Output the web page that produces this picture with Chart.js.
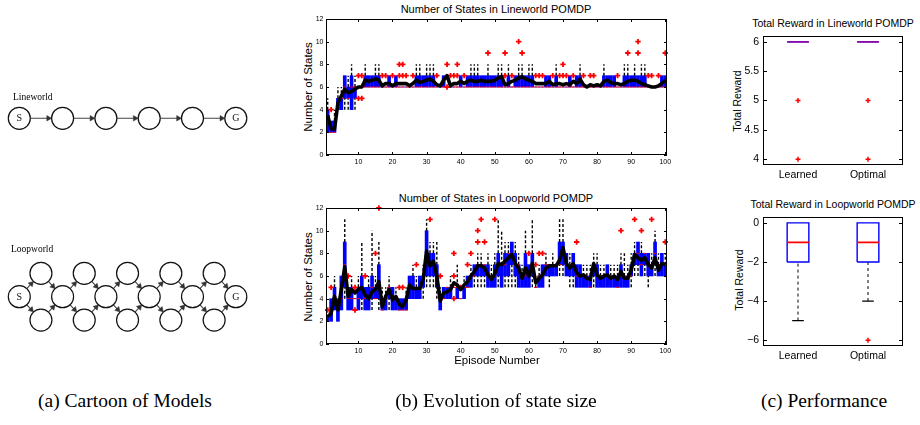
<!DOCTYPE html>
<html>
<head>
<meta charset="utf-8">
<script src="https://cdn.jsdelivr.net/npm/chart.js@4.4.0/dist/chart.umd.min.js"></script>
<style>
html, body { margin: 0; padding: 0; background: #fff; }
body { width: 920px; height: 425px; position: relative; overflow: hidden;
       font-family: 'Liberation Sans', Arial, sans-serif; color: #000; }
.box { position: absolute; }
.t { position: absolute; white-space: nowrap; transform: translate(-50%, -50%); }
.l { position: absolute; white-space: nowrap; transform: translate(0, -50%); }
.rot { transform: translate(-50%, -50%) rotate(-90deg); }
.serif { font-family: 'Liberation Serif', 'Times New Roman', serif; }
.cap { font-size: 19.5px; }
</style>
</head>
<body>

<!-- (a) cartoon -->
<div class="box" style="left:0;top:60px;width:270px;height:300px"><canvas id="cartoon"></canvas></div>
<div class="l serif" style="left:13px;top:97px;font-size:9.5px">Lineworld</div>
<div class="l serif" style="left:11px;top:249px;font-size:9.5px">Loopworld</div>

<!-- (b) state size -->
<div class="t" style="left:496px;top:9px;font-size:11px">Number of States in Lineworld POMDP</div>
<div class="t rot" style="left:308px;top:87px;font-size:11.5px">Number of States</div>
<div class="box" style="left:306px;top:14px;width:367px;height:153px"><canvas id="stLine"></canvas></div>

<div class="t" style="left:496px;top:198px;font-size:11px">Number of States in Loopworld POMDP</div>
<div class="t rot" style="left:308px;top:277px;font-size:11.5px">Number of States</div>
<div class="box" style="left:306px;top:203px;width:367px;height:153px"><canvas id="stLoop"></canvas></div>
<div class="t" style="left:497px;top:360px;font-size:11.5px">Episode Number</div>

<!-- (c) performance -->
<div class="t" style="left:833px;top:23px;font-size:10.5px">Total Reward in Lineworld POMDP</div>
<div class="t rot" style="left:737px;top:101px;font-size:10.5px">Total Reward</div>
<div class="box" style="left:733px;top:31px;width:176px;height:150px"><canvas id="rwLine"></canvas></div>

<div class="t" style="left:833px;top:204px;font-size:10.5px">Total Reward in Loopworld POMDP</div>
<div class="t rot" style="left:739px;top:280px;font-size:10.5px">Total Reward</div>
<div class="box" style="left:733px;top:212px;width:176px;height:150px"><canvas id="rwLoop"></canvas></div>

<!-- captions -->
<div class="t serif cap" style="left:125px;top:401px">(a) Cartoon of Models</div>
<div class="t serif cap" style="left:496px;top:401px">(b) Evolution of state size</div>
<div class="t serif cap" style="left:824px;top:401px">(c) Performance</div>

<script>
// ─── Data ────────────────────────────────────────────────────────────────────

const episodes = Array.from({ length: 100 }, (_, i) => i + 1);
const episodeTicks = [10, 20, 30, 40, 50, 60, 70, 80, 90, 100];
const stateTicks = [0, 2, 4, 6, 8, 10, 12];

// Lineworld: number of states per episode (box stats over runs)
const lineQ1 = [2,2,2,4,4,5,5,4,5,6, 6,6,6,6,6,6,6,6,6,6, 6,6,6,6,6,6,6,6,6,6, 6,6,6,6,6,7,6,6,6,6,
                6,6,6,6,6,6,6,6,6,6, 6,6,6,6,6,6,6,6,6,6, 6,6,6,6,6,6,6,6,6,6, 6,6,6,6,6,6,6,6,6,6,
                6,6,6,6,6,6,6,6,6,6, 6,6,6,6,6,6,6,6,6,6];
const lineQ3 = [4,3,3,5,5,7,6,7,6,6, 6,7,7,7,7,7,6,6,7,6, 7,6,6,6,6,6,7,7,7,7, 7,7,6,6,7,7,6,6,6,7,
                6,7,7,7,7,7,7,7,7,7, 7,7,6,7,6,7,7,7,7,7, 7,6,6,6,7,7,6,7,6,6, 6,7,6,7,7,6,6,6,6,6,
                6,7,7,7,7,6,6,7,7,7, 7,7,7,7,6,6,6,6,7,7];
const lineMed = [3,2,2,4,5,6,5,6,6,6, 6,6,6,6,6,6,6,6,6,6, 6,6,6,6,6,6,6,6,6,6, 6,6,6,6,6,7,6,6,6,6,
                 6,6,6,6,6,6,6,6,6,6, 6,6,6,6,6,6,6,6,6,6, 6,6,6,6,6,6,6,6,6,6, 6,6,6,6,6,6,6,6,6,6,
                 6,6,6,6,6,6,6,6,6,6, 6,6,6,6,6,6,6,6,6,6];
const lineLo = [2,2,2,4,4,4,4,4,4,6, 6,6,6,6,6,6,6,6,6,6, 6,6,6,6,6,6,6,6,6,6, 6,6,6,6,6,7,6,6,6,6,
                6,6,6,6,6,6,6,6,6,6, 6,6,6,6,6,6,6,6,6,6, 6,6,6,6,6,6,6,6,6,6, 6,6,6,6,6,6,6,6,6,6,
                6,6,6,6,6,6,6,6,6,6, 6,6,6,6,6,6,6,6,6,6];
const lineHi = [5,3,4,6,6,7,7,8,7,6, 6,8,7,7,8,8,6,6,7,6, 7,6,6,6,6,6,8,8,7,8, 8,8,6,6,7,7,6,6,6,7,
                6,7,8,8,8,7,7,8,7,7, 8,8,6,8,6,7,8,8,7,8, 8,6,6,6,7,7,6,8,6,6, 6,7,6,7,8,6,6,6,6,6,
                6,8,7,7,7,6,6,8,8,7, 8,7,8,8,6,6,6,6,7,7];
const lineMean = [3.5,2.3,2.3,4.6,5.2,5.8,5.5,5.6,5.8,6.0, 6.0,6.6,6.5,6.6,6.7,6.6,6.1,6.3,6.3,6.1,
                  6.3,6.3,6.3,6.3,6.1,6.3,6.6,6.4,6.5,6.6, 6.7,6.5,6.2,6.1,6.6,7.0,6.1,6.3,6.3,6.5,
                  6.3,6.5,6.6,6.5,6.5,6.6,6.5,6.5,6.5,6.6, 6.8,6.9,6.2,6.3,6.5,6.6,6.8,6.9,6.7,6.6,
                  6.5,6.3,6.3,6.3,6.3,6.5,6.2,6.3,6.3,6.2, 6.3,6.2,6.5,6.3,6.7,6.2,6.0,6.2,6.1,6.2,
                  6.1,6.5,6.6,6.4,6.3,6.3,6.2,6.3,6.5,6.6, 6.6,6.5,6.3,6.2,6.1,6.0,6.0,6.1,6.3,6.6];
const lineOutEp  = [2,10,10,11,11,17,18,20,22,22,23,23,24,26,33,36,36,37,38,39,39,41,48,53,53,55,57,58,
                    62,63,64,67,69,70,70,71,73,76,78,79,86,89,92,92,95,96,98,100];
const lineOutVal = [4,5,7,5,7,7,7,7,7,8,7,8,7,7,7,6,8,7,7,7,8,7,9,7,9,7,10,9,
                    7,7,7,7,7,7,8,7,7,7,7,7,7,9,9,10,7,7,7,9];

// Loopworld: number of states per episode
const loopQ1 = [2,2,3,2,3,5,3,3,4,3, 4,3,3,4,4,4,3,3,4,3, 3,3,3,3,4,4,4,4,5,6, 6,6,5,3,4,4,4,5,4,4,
                4,5,5,6,6,6,6,5,5,5, 6,5,6,6,7,6,5,5,5,5, 6,5,5,5,6,6,6,6,7,7, 6,6,6,5,5,5,5,5,6,5,
                5,5,5,5,5,5,5,5,5,6, 7,7,6,7,6,6,7,6,6,6];
const loopQ3 = [2.5,4,5,4,6,9,5,5,4,5, 6,5,5,6,5,7,4,4,5,5, 4,4,4,4,6,6,5,6,6,10, 8,8,7,4,5,5,5,5,5,4,
                5,6,6,7,7,7,7,7,6,7, 8,7,8,8,9,8,7,6,8,7, 8,5,6,7,7,7,7,7,9,9, 8,7,8,7,7,6,6,6,7,7,
                6,6,7,6,6,6,7,6,6,7, 8,9,8,8,8,7,9,7,8,7];
const loopMed = [2,3,4,3,4,7,4,4,4,4, 5,4,4,5,4,5,3,4,5,4, 4,3,3,3,5,5,5,5,6,8, 7,7,6,4,4,5,5,5,5,4,
                 5,5,6,6,7,7,7,6,6,6, 7,7,7,8,8,7,7,6,6,6, 7,5,6,6,7,7,7,7,7,8, 7,7,7,6,6,6,6,5,7,6,
                 6,6,6,6,6,5,6,6,6,6, 8,8,7,8,7,7,8,7,7,7];
const loopLo = [2,2,3,2,3,4,3,3,4,3, 3,3,3,3,4,3,3,3,3,3, 3,3,3,3,4,4,4,4,4,5, 5,5,4,3,4,4,4,5,4,4,
                4,5,5,5,5,5,5,5,5,5, 5,5,5,5,5,5,5,5,5,5, 5,5,5,5,6,5,6,6,6,6, 6,5,5,5,5,5,5,5,5,5,
                5,5,5,5,5,5,5,5,5,5, 6,6,6,6,5,6,6,6,6,6];
const loopHi = [2.5,4,6,4,6,11,5,6,4,6, 9,5,6,10,6,9,5,5,6,5, 5,4,4,5,6,7,6,6,7,11, 9,9,9,5,5,5,6,5,7,4,
                6,6,7,7,8,8,7,8,7,8, 11,10,9,9,9,9,8,7,10,7, 11,6,7,7,8,7,8,7,11,11, 8,8,8,7,7,7,7,7,8,8,
                7,7,7,7,7,7,8,8,7,8, 9,9,9,8,8,8,10,8,8,8];
const loopMean = [2.4,2.7,4.2,3.0,4.8,6.8,4.2,4.8,4.5,4.8, 5.0,4.3,4.0,4.6,4.8,5.5,3.3,4.2,4.8,3.9,
                  4.2,3.5,3.3,3.9,5.2,4.9,4.9,4.9,5.7,8.2, 6.9,7.3,6.0,3.8,4.5,4.6,4.8,5.4,5.2,4.8,
                  5.2,5.5,6.0,6.4,6.9,6.9,6.7,6.1,5.7,6.2, 7.1,7.0,7.3,7.6,7.9,7.1,6.7,5.8,6.7,6.0,
                  7.1,5.4,5.8,6.1,6.7,6.9,6.9,6.9,7.4,8.5, 7.1,6.7,7.1,6.3,6.0,6.1,5.8,5.7,7.1,6.1,
                  5.8,6.0,6.1,5.8,6.0,5.7,6.4,5.8,5.8,6.5, 7.9,7.6,7.4,7.6,7.0,6.7,7.6,6.5,7.1,7.0];
const loopOutEp  = [1,2,7,9,9,12,15,16,22,23,27,31,34,38,38,38,40,42,43,45,45,46,47,50,60,62,63,64,74,87,91,93,96,100];
const loopOutVal = [3,5,6,3,5,6,8,12,5,5,7,11,6,4,6,8,5,7,8,9,10,11,9,11,8,7,8,8,9,10,11,10,11,9];

// Total reward box plots
const rewardCats = ['Learned', 'Optimal'];
const lineRwQ1 = [6, 6], lineRwQ3 = [6, 6], lineRwMed = [6, 6], lineRwLo = [6, 6], lineRwHi = [6, 6];
const lineRwOutX = [1, 1, 2, 2], lineRwOutY = [5, 4, 5, 4];
const lineRwTicks = [4, 4.5, 5, 5.5, 6];
const loopRwQ1 = [-2, -2], loopRwQ3 = [0, 0], loopRwMed = [-1, -1], loopRwLo = [-5, -4], loopRwHi = [0, 0];
const loopRwOutX = [2], loopRwOutY = [-6];
const loopRwTicks = [-6, -4, -2, 0];

// Cartoon graphs (node positions in grid units)
const lineNodeX = [0, 1, 2, 3, 4, 5];
const lineNodeLabels = ['S', '', '', '', '', 'G'];
const loopMidX = [0, 1, 2, 3, 4, 5];
const loopMidLabels = ['S', '', '', '', '', 'G'];
const loopSideX = [0.5, 1.5, 2.5, 3.5, 4.5];

// ─── Helpers ─────────────────────────────────────────────────────────────────

const BLUE = '#0000ff', RED = '#ff0000';
const FONT = "'Liberation Sans', Arial, sans-serif";

// MATLAB style box frame with inward tick marks
const framePlugin = {
    id: 'frame',
    defaults: { tick: 3, xTicks: true },
    afterDatasetsDraw(chart, args, opts) {
        const { ctx, chartArea: a, scales } = chart;
        ctx.save();
        ctx.strokeStyle = '#000';
        ctx.lineWidth = 1;
        ctx.strokeRect(Math.round(a.left) + 0.5, Math.round(a.top) + 0.5,
                       Math.round(a.right - a.left) - 1, Math.round(a.bottom - a.top) - 1);
        const t = opts.tick;
        ctx.beginPath();
        if (opts.xTicks) {
            scales.x.ticks.forEach(tk => {
                const px = Math.round(scales.x.getPixelForValue(tk.value)) + 0.5;
                ctx.moveTo(px, a.bottom); ctx.lineTo(px, a.bottom - t);
                ctx.moveTo(px, a.top);    ctx.lineTo(px, a.top + t);
            });
        }
        scales.y.ticks.forEach(tk => {
            const py = Math.round(scales.y.getPixelForValue(tk.value)) + 0.5;
            ctx.moveTo(a.left, py);  ctx.lineTo(a.left + t, py);
            ctx.moveTo(a.right, py); ctx.lineTo(a.right - t, py);
        });
        ctx.stroke();
        ctx.restore();
    },
};
Chart.register(framePlugin);

function whiskerPts(xs, q1, q3, lo, hi) {
    const pts = [];
    xs.forEach((x, i) => {
        if (hi[i] > q3[i]) pts.push({ x, y: q3[i] }, { x, y: hi[i] }, { x, y: null });
        if (lo[i] < q1[i]) pts.push({ x, y: lo[i] }, { x, y: q1[i] }, { x, y: null });
    });
    return pts;
}

function hSegs(xs, ys, half, keep) {
    const pts = [];
    xs.forEach((x, i) => {
        if (keep && !keep(i)) return;
        pts.push({ x: x - half, y: ys[i] }, { x: x + half, y: ys[i] }, { x, y: null });
    });
    return pts;
}

function rectPts(xs, q1, q3, half) {
    const pts = [];
    xs.forEach((x, i) => {
        pts.push({ x: x - half, y: q1[i] }, { x: x + half, y: q1[i] }, { x: x + half, y: q3[i] },
                 { x: x - half, y: q3[i] }, { x: x - half, y: q1[i] }, { x, y: null });
    });
    return pts;
}

function axes(xMin, xMax, xTicks, xLabel, yMin, yMax, yTicks, yLabel, yWidth, xHeight, fontSize, pad) {
    return {
        x: {
            type: 'linear', min: xMin, max: xMax, offset: false,
            grid: { display: false, drawTicks: false }, border: { display: false },
            ticks: { font: { size: fontSize, family: FONT }, color: '#000', padding: pad, maxRotation: 0,
                     autoSkip: false, callback: xLabel },
            afterBuildTicks: s => { s.ticks = xTicks.map(v => ({ value: v })); },
            afterFit: s => { s.height = xHeight; s.paddingLeft = 0; s.paddingRight = 0; },
        },
        y: {
            min: yMin, max: yMax,
            grid: { display: false, drawTicks: false }, border: { display: false },
            ticks: { font: { size: fontSize, family: FONT }, color: '#000', padding: pad, autoSkip: false,
                     callback: yLabel },
            afterBuildTicks: s => { s.ticks = yTicks.map(v => ({ value: v })); },
            afterFit: s => { s.width = yWidth; s.paddingTop = 0; s.paddingBottom = 0; },
        },
    };
}

// ─── (b) number of states over episodes ─────────────────────────────────────

function stateChart(id, q1, q3, med, lo, hi, mean, outEp, outVal) {
    new Chart(document.getElementById(id), {
        type: 'bar',
        data: {
            datasets: [
                { type: 'line', order: 0, data: episodes.map((x, i) => ({ x, y: mean[i] })),
                  borderColor: '#000', borderWidth: 3.6, pointRadius: 0, borderJoinStyle: 'round' },
                { type: 'scatter', order: 1, data: outEp.map((x, i) => ({ x, y: outVal[i] })),
                  pointStyle: 'cross', pointRadius: 2.7, pointBorderWidth: 1.8,
                  pointBorderColor: RED, borderColor: RED, clip: 6 },
                { type: 'line', order: 2, data: hSegs(episodes, med, 0.4),
                  borderColor: RED, borderWidth: 1, pointRadius: 0, spanGaps: false },
                { type: 'line', order: 3, data: whiskerPts(episodes, q1, q3, lo, hi),
                  borderColor: '#000', borderWidth: 1.4, borderDash: [3, 2], pointRadius: 0, spanGaps: false },
                { type: 'bar', order: 4, data: episodes.map((x, i) => ({ x, y: [q1[i], q3[i]] })),
                  backgroundColor: BLUE, barThickness: 3, borderSkipped: false },
            ],
        },
        options: {
            responsive: true,
            maintainAspectRatio: false,
            animation: false,
            events: [],
            layout: { padding: { left: 0, top: 5, right: 6, bottom: 0 }, autoPadding: false },
            plugins: { legend: { display: false }, tooltip: { enabled: false }, frame: { tick: 3, xTicks: true } },
            scales: axes(0.5, 100.5, episodeTicks, v => String(v), 0, 12, stateTicks, v => String(v), 20, 12, 7, 2.5),
        },
    });
}

stateChart('stLine', lineQ1, lineQ3, lineMed, lineLo, lineHi, lineMean, lineOutEp, lineOutVal);
stateChart('stLoop', loopQ1, loopQ3, loopMed, loopLo, loopHi, loopMean, loopOutEp, loopOutVal);

// ─── (c) total reward box plots ─────────────────────────────────────────────

function rewardChart(id, q1, q3, med, lo, hi, outX, outY, yMin, yMax, yTicks, medColor) {
    const xs = rewardCats.map((_, i) => i + 1);
    const hasWhisker = i => lo[i] < q1[i];
    new Chart(document.getElementById(id), {
        type: 'scatter',
        data: {
            datasets: [
                { order: 0, data: outX.map((x, i) => ({ x, y: outY[i] })),
                  pointStyle: 'cross', pointRadius: 2.5, pointBorderWidth: 1.5,
                  pointBorderColor: RED, borderColor: RED, clip: 6 },
                { type: 'line', order: 1, data: hSegs(xs, med, 0.155),
                  borderColor: medColor, borderWidth: 1.6, pointRadius: 0, spanGaps: false },
                { type: 'line', order: 2, data: rectPts(xs, q1, q3, 0.155),
                  borderColor: BLUE, borderWidth: 1.4, pointRadius: 0, spanGaps: false },
                { type: 'line', order: 3, data: hSegs(xs, lo, 0.083, hasWhisker),
                  borderColor: '#000', borderWidth: 1.2, pointRadius: 0, spanGaps: false },
                { type: 'line', order: 4, data: whiskerPts(xs, q1, q3, lo, hi),
                  borderColor: '#000', borderWidth: 1, borderDash: [3, 3], pointRadius: 0, spanGaps: false },
            ],
        },
        options: {
            responsive: true,
            maintainAspectRatio: false,
            animation: false,
            events: [],
            layout: { padding: { left: 0, top: 5, right: 6, bottom: 0 }, autoPadding: false },
            plugins: { legend: { display: false }, tooltip: { enabled: false }, frame: { tick: 4, xTicks: false } },
            scales: axes(0.5, 2.5, xs, v => rewardCats[v - 1], yMin, yMax, yTicks,
                         v => (v < 0 ? '\u2212' + Math.abs(v) : String(v)), 30, 16, 10.5, 4),
        },
    });
}

rewardChart('rwLine', lineRwQ1, lineRwQ3, lineRwMed, lineRwLo, lineRwHi, lineRwOutX, lineRwOutY,
            3.9, 6.1, lineRwTicks, 'rgba(150,0,150,0.85)');
rewardChart('rwLoop', loopRwQ1, loopRwQ3, loopRwMed, loopRwLo, loopRwHi, loopRwOutX, loopRwOutY,
            -6.3, 0.3, loopRwTicks, RED);

// ─── (a) cartoon of the two models ──────────────────────────────────────────

const UNIT = 43.3;           // px per grid unit, same on both axes
const R = 11;                // node radius, px
const HEAD = 3.2;            // arrow head radius, px
const lineRowY = 4.12, loopRowY = 0, loopOff = 0.54;

const nodes = [];
lineNodeX.forEach((x, i) => nodes.push({ x, y: lineRowY, t: lineNodeLabels[i] }));
loopMidX.forEach((x, i) => nodes.push({ x, y: loopRowY, t: loopMidLabels[i] }));
loopSideX.forEach(x => nodes.push({ x, y: loopRowY + loopOff, t: '' }, { x, y: loopRowY - loopOff, t: '' }));

const edges = [];
for (let i = 0; i + 1 < lineNodeX.length; i++) {
    edges.push([{ x: lineNodeX[i], y: lineRowY }, { x: lineNodeX[i + 1], y: lineRowY }]);
}
loopSideX.forEach((sx, k) => {
    [loopOff, -loopOff].forEach(dy => {
        edges.push([{ x: loopMidX[k], y: loopRowY }, { x: sx, y: loopRowY + dy }]);
        edges.push([{ x: sx, y: loopRowY + dy }, { x: loopMidX[k + 1], y: loopRowY }]);
    });
});

const edgePts = [], headPts = [], headRot = [];
edges.forEach(([a, b]) => {
    const dx = b.x - a.x, dy = b.y - a.y, len = Math.hypot(dx, dy);
    const ux = dx / len, uy = dy / len, r = R / UNIT;
    const ex = b.x - ux * r, ey = b.y - uy * r;
    edgePts.push({ x: a.x + ux * r, y: a.y + uy * r }, { x: ex - ux * HEAD / UNIT, y: ey - uy * HEAD / UNIT }, { x: a.x, y: null });
    headPts.push({ x: ex - ux * HEAD / UNIT, y: ey - uy * HEAD / UNIT });
    headRot.push(Math.atan2(dx, dy) * 180 / Math.PI);
});

const nodeText = {
    id: 'nodeText',
    afterDatasetsDraw(chart) {
        const { ctx, scales: { x, y } } = chart;
        ctx.save();
        ctx.font = "10px 'Liberation Serif', serif";
        ctx.fillStyle = '#111';
        ctx.textAlign = 'center';
        ctx.textBaseline = 'middle';
        nodes.forEach(n => { if (n.t) ctx.fillText(n.t, x.getPixelForValue(n.x), y.getPixelForValue(n.y) + 0.5); });
        ctx.restore();
    },
};

const xMin = -19.3 / UNIT, yMax = 236.7 / UNIT;
new Chart(document.getElementById('cartoon'), {
    type: 'scatter',
    data: {
        datasets: [
            { order: 0, data: nodes.map(n => ({ x: n.x, y: n.y })), pointRadius: R, pointBorderWidth: 1.2,
              pointBackgroundColor: '#fff', pointBorderColor: '#111', clip: false },
            { order: 1, data: headPts, pointStyle: 'triangle', pointRadius: HEAD, pointRotation: headRot,
              pointBackgroundColor: '#333', pointBorderColor: '#333', pointBorderWidth: 0.5, clip: false },
            { type: 'line', order: 2, data: edgePts, borderColor: '#444', borderWidth: 1.1,
              pointRadius: 0, spanGaps: false, clip: false },
        ],
    },
    options: {
        responsive: true,
        maintainAspectRatio: false,
        animation: false,
        events: [],
        layout: { padding: 0, autoPadding: false },
        plugins: { legend: { display: false }, tooltip: { enabled: false }, frame: false },
        scales: {
            x: { type: 'linear', display: false, min: xMin, max: xMin + 270 / UNIT },
            y: { type: 'linear', display: false, min: yMax - 300 / UNIT, max: yMax },
        },
    },
    plugins: [nodeText],
});
</script>
</body>
</html>
